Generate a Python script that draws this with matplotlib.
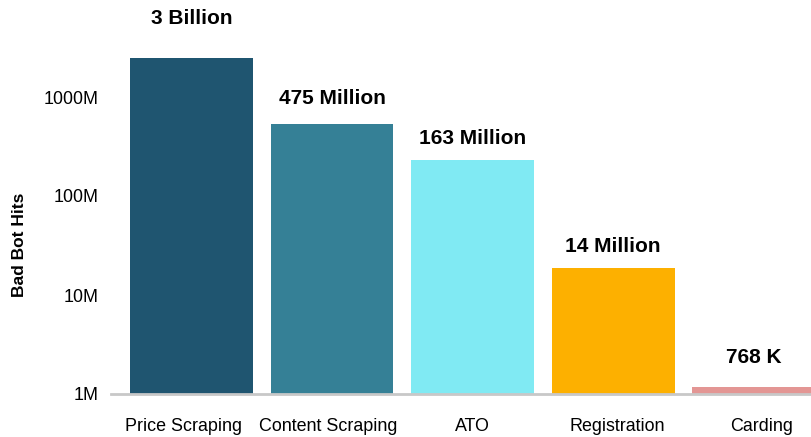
import matplotlib.pyplot as plt
import numpy as np

plt.rcParams['font.family'] = ['Liberation Sans', 'DejaVu Sans']

categories = ['Price Scraping', 'Content Scraping', 'ATO', 'Registration', 'Carding']
hits = [2.5e9, 5.3e8, 2.3e8, 1.87e7, 1.18e6]
value_labels = ['3 Billion', '475 Million', '163 Million', '14 Million', '768 K']
colors = ['#1f5570', '#358096', '#80eaf3', '#fdb000', '#e39694']
label_gap = [21, 12, 9, 9, 14]  # points above each bar

fig = plt.figure(figsize=(8.12, 4.37), dpi=100)
ax = fig.add_axes([111 / 812, 43 / 437, 701 / 812, 384 / 437])

x = np.arange(len(categories))
ax.bar(x, hits, width=0.875, color=colors)
ax.set_yscale('log')
ax.set_ylim(1e6, 10 ** (6 + 384 / 99))
ax.set_xlim(-0.573, 4.416)

for xi, h, txt, gap in zip(x, hits, value_labels, label_gap):
    ax.annotate(txt, (xi, h), xytext=(0, gap), textcoords='offset points',
                ha='center', va='bottom', fontsize=15, fontweight='bold')

ax.set_yticks([1e6, 1e7, 1e8, 1e9])
ax.set_yticklabels(['1M', '10M', '100M', '1000M'])
ax.minorticks_off()
ax.set_xticks(x * 1.03 - 0.06)
ax.set_xticklabels(categories)
ax.tick_params(axis='both', length=0, labelsize=12.9)
ax.tick_params(axis='y', pad=9)
ax.tick_params(axis='x', pad=17)

for side in ['top', 'right', 'left']:
    ax.spines[side].set_visible(False)
ax.spines['bottom'].set_color('#c8c8c8')
ax.spines['bottom'].set_linewidth(2)

ax.set_ylabel('Bad Bot Hits', fontsize=12.5, fontweight='bold')
ax.yaxis.set_label_coords(-0.12, 0.388)

fig.savefig('out.png', dpi=100)
